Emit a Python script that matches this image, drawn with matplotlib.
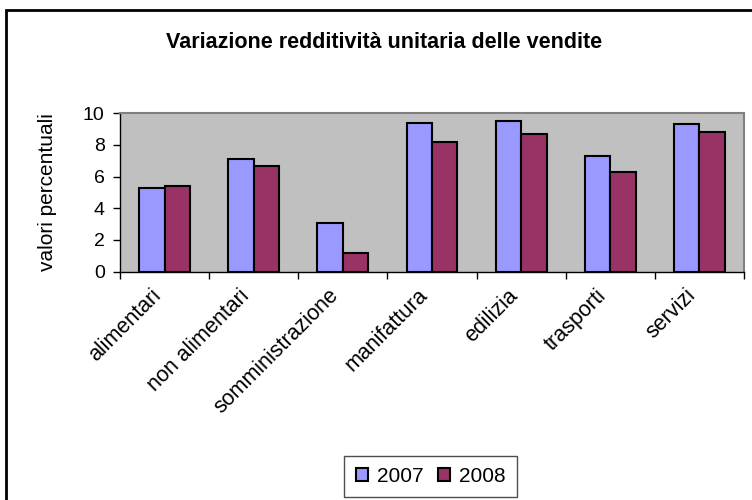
import numpy as np
import matplotlib.pyplot as plt
import matplotlib.transforms as mtransforms
from matplotlib.patches import Rectangle

plt.rcParams['font.family'] = ['Liberation Sans', 'DejaVu Sans']

# Settori e valori percentuali per anno
settori = ['alimentari', 'non alimentari', 'somministrazione', 'manifattura',
           'edilizia', 'trasporti', 'servizi']
valori_2007 = [5.3, 7.1, 3.1, 9.4, 9.5, 7.3, 9.3]
valori_2008 = [5.4, 6.7, 1.2, 8.2, 8.7, 6.3, 8.8]
anni = ['2007', '2008']
tick_y = [0, 2, 4, 6, 8, 10]

fig = plt.figure(figsize=(7.52, 5.0), dpi=100)

# cornice esterna del grafico
fig.patches.append(Rectangle((6 / 752, -0.05), 1.2, 1 - 10 / 500 + 0.05,
                             transform=fig.transFigure, fill=False,
                             edgecolor='black', linewidth=2, zorder=0))

ax = fig.add_axes([120 / 752, 1 - 271.7 / 500, 624 / 752, 158.5 / 500])
ax.set_facecolor('#C0C0C0')

x = np.arange(len(settori))
w = 1 / 3.5
ax.bar(x - w / 2, valori_2007, w, color='#9999FF', edgecolor='black',
       linewidth=1.5, label=anni[0], zorder=2)
ax.bar(x + w / 2, valori_2008, w, color='#993366', edgecolor='black',
       linewidth=1.5, label=anni[1], zorder=2)

ax.set_xlim(-0.5, len(settori) - 0.5)
ax.set_ylim(0, 10)
ax.set_yticks(tick_y)
ax.set_yticklabels([str(t) for t in tick_y], fontsize=14)

# tacche sull'asse x ai confini delle categorie
ax.set_xticks(np.arange(len(settori) + 1) - 0.5)
ax.set_xticklabels([])
ax.set_xticks(x, minor=True)
ax.set_xticklabels(settori, minor=True, rotation=45, ha='right', va='center',
                   rotation_mode='anchor', fontsize=15.5)
ax.tick_params(axis='x', which='minor', length=0, pad=15)
ax.tick_params(axis='both', which='major', direction='out', length=5,
               color='black', width=1)
ax.tick_params(axis='y', pad=6)

# sposta le etichette ruotate un po' a sinistra
sposta = mtransforms.ScaledTranslation(-7 / 100, 0, fig.dpi_scale_trans)
for lab in ax.get_xticklabels(minor=True):
    lab.set_transform(lab.get_transform() + sposta)

for s in ['top', 'right']:
    ax.spines[s].set_color('#808080')
    ax.spines[s].set_linewidth(1.5)
for s in ['left', 'bottom']:
    ax.spines[s].set_color('black')
    ax.spines[s].set_linewidth(1)

ax.set_ylabel('valori percentuali', fontsize=15, labelpad=19)

fig.text(384 / 752, 1 - 42 / 500, 'Variazione redditività unitaria delle vendite',
         ha='center', va='center', fontsize=15.5, fontweight='bold')

leg = fig.legend(loc='center', bbox_to_anchor=(430.5 / 752, 1 - 476.5 / 500),
                 ncol=2, fontsize=15, frameon=True, fancybox=False,
                 handlelength=0.6, handleheight=0.6, handletextpad=0.4,
                 columnspacing=0.7, borderpad=0.55, borderaxespad=0)
leg.get_frame().set_edgecolor('#222222')
leg.get_frame().set_linewidth(1)
for h in leg.legend_handles:
    h.set_linewidth(1.5)

fig.savefig('out.png', dpi=100)
